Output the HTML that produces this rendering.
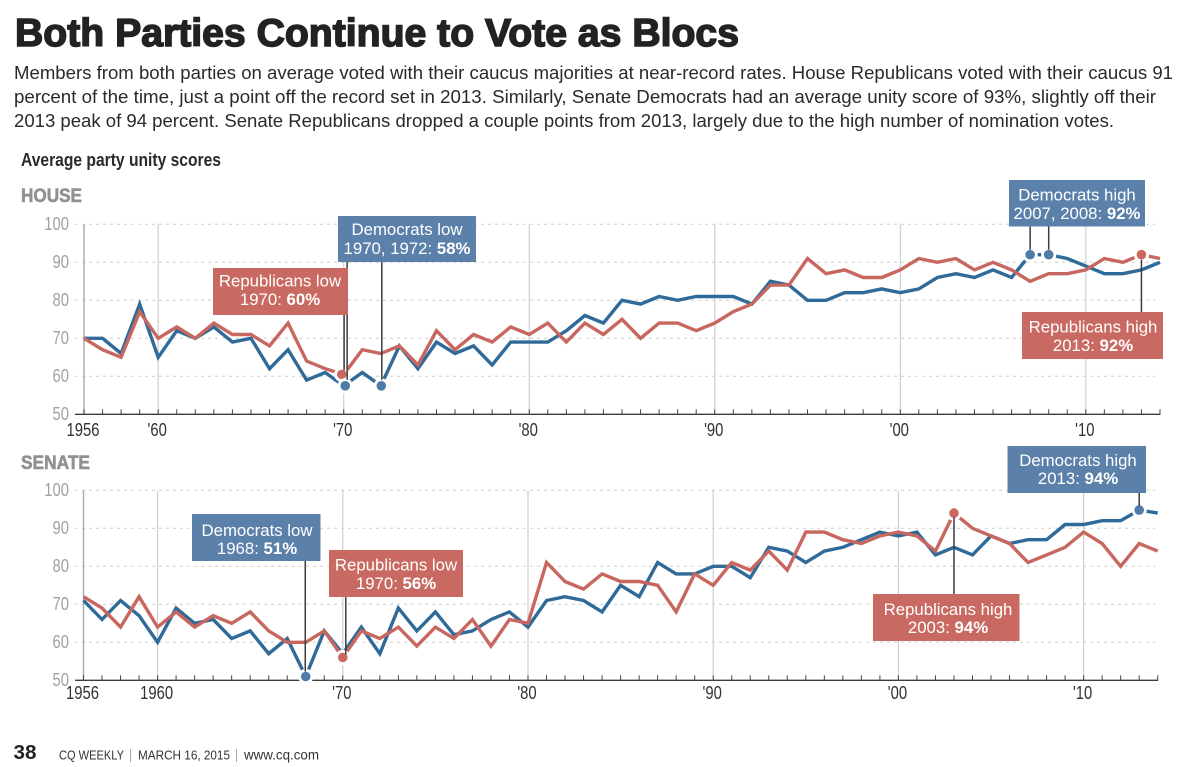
<!DOCTYPE html>
<html lang="en">
<head>
<meta charset="utf-8">
<title>Both Parties Continue to Vote as Blocs</title>
<style>
html,body{margin:0;padding:0;background:#fff;width:1200px;height:767px;overflow:hidden}
svg{display:block}
text{font-family:"Liberation Sans",sans-serif}
.para{font-size:18px;fill:#2a2a2c}
.box-t{font-size:16.8px;fill:#fff;text-anchor:middle}
.box-t tspan{font-weight:bold}
</style>
</head>
<body>
<svg id="chart" width="1200" height="767" viewBox="0 0 1200 767" xmlns="http://www.w3.org/2000/svg">
  <text x="15" y="46" font-size="39" font-weight="bold" fill="#222" stroke="#222" stroke-width="1.5" textLength="724" lengthAdjust="spacingAndGlyphs">Both Parties Continue to Vote as Blocs</text>
  <text class="para" x="14" y="79" textLength="1159" lengthAdjust="spacingAndGlyphs">Members from both parties on average voted with their caucus majorities at near-record rates. House Republicans voted with their caucus 91</text>
  <text class="para" x="14" y="103" textLength="1142" lengthAdjust="spacingAndGlyphs">percent of the time, just a point off the record set in 2013. Similarly, Senate Democrats had an average unity score of 93%, slightly off their</text>
  <text class="para" x="14" y="127" textLength="1100" lengthAdjust="spacingAndGlyphs">2013 peak of 94 percent. Senate Republicans dropped a couple points from 2013, largely due to the high number of nomination votes.</text>
  <text x="21" y="166" font-size="18" font-weight="bold" fill="#2a2a2c" textLength="200" lengthAdjust="spacingAndGlyphs">Average party unity scores</text>
  <text x="21" y="202" font-size="19" font-weight="bold" fill="#8f9194" stroke="#8f9194" stroke-width=".6" textLength="61" lengthAdjust="spacingAndGlyphs">HOUSE</text>
  <text x="21" y="469" font-size="19" font-weight="bold" fill="#8f9194" stroke="#8f9194" stroke-width=".6" textLength="69" lengthAdjust="spacingAndGlyphs">SENATE</text>

  <g id="house-plot"></g>
  <g id="senate-plot"></g>

  <g>
    <rect x="338" y="216" width="138" height="46" fill="#5b80a9"/>
    <text class="box-t" x="407" y="235">Democrats low</text>
    <text class="box-t" x="407" y="254">1970, 1972: <tspan>58%</tspan></text>
  </g>
  <g>
    <rect x="213" y="268" width="135" height="47" fill="#c96a62"/>
    <text class="box-t" x="280" y="286.500">Republicans low</text>
    <text class="box-t" x="280" y="305">1970: <tspan>60%</tspan></text>
  </g>
  <g>
    <rect x="1009" y="180" width="136" height="46.500" fill="#5b80a9"/>
    <text class="box-t" x="1077" y="200.500">Democrats high</text>
    <text class="box-t" x="1077" y="219">2007, 2008: <tspan>92%</tspan></text>
  </g>
  <g>
    <rect x="1022" y="312" width="141" height="47" fill="#c96a62"/>
    <text class="box-t" x="1093" y="332.500">Republicans high</text>
    <text class="box-t" x="1093" y="351">2013: <tspan>92%</tspan></text>
  </g>
  <g>
    <rect x="192" y="514" width="128.500" height="47" fill="#5b80a9"/>
    <text class="box-t" x="257" y="536">Democrats low</text>
    <text class="box-t" x="257" y="554">1968: <tspan>51%</tspan></text>
  </g>
  <g>
    <rect x="329" y="550" width="134" height="47" fill="#c96a62"/>
    <text class="box-t" x="396" y="570.500">Republicans low</text>
    <text class="box-t" x="396" y="589">1970: <tspan>56%</tspan></text>
  </g>
  <g>
    <rect x="873" y="594" width="146.500" height="47" fill="#c96a62"/>
    <text class="box-t" x="948" y="615">Republicans high</text>
    <text class="box-t" x="948" y="633">2003: <tspan>94%</tspan></text>
  </g>
  <g>
    <rect x="1007.500" y="446" width="138.500" height="47" fill="#5b80a9"/>
    <text class="box-t" x="1078" y="466">Democrats high</text>
    <text class="box-t" x="1078" y="484">2013: <tspan>94%</tspan></text>
  </g>

  <text x="13.500" y="759" font-size="20" font-weight="bold" fill="#222" textLength="23" lengthAdjust="spacingAndGlyphs">38</text>
  <text x="59" y="759.500" font-size="13" fill="#333" textLength="65" lengthAdjust="spacingAndGlyphs">CQ WEEKLY</text>
  <rect x="130" y="749" width="1" height="13" fill="#aaa"/>
  <text x="138" y="759.500" font-size="13" fill="#333" textLength="92" lengthAdjust="spacingAndGlyphs">MARCH 16, 2015</text>
  <rect x="236" y="749" width="1" height="13" fill="#aaa"/>
  <text x="244" y="759.500" font-size="13.500" fill="#333" textLength="75" lengthAdjust="spacingAndGlyphs">www.cq.com</text>
</svg>

<script>
const years = [1956,1957,1958,1959,1960,1961,1962,1963,1964,1965,1966,1967,1968,1969,1970,1971,1972,1973,1974,1975,1976,1977,1978,1979,1980,1981,1982,1983,1984,1985,1986,1987,1988,1989,1990,1991,1992,1993,1994,1995,1996,1997,1998,1999,2000,2001,2002,2003,2004,2005,2006,2007,2008,2009,2010,2011,2012,2013,2014];
const houseDemocrats = [70,70,66,79,65,72,70,73,69,70,62,67,59,61,57.5,61,57.5,68,62,69,66,68,63,69,69,69,72,76,74,80,79,81,80,81,81,81,79,85,84,80,80,82,82,83,82,83,86,87,86,88,86,92,92,91,89,87,87,88,90];
const houseRepublicans = [70,67,65,77,70,73,70,74,71,71,68,74,64,62,60.5,67,66,68,63,72,67,71,69,73,71,74,69,74,71,75,70,74,74,72,74,77,79,84,84,91,87,88,86,86,88,91,90,91,88,90,88,85,87,87,88,91,90,92,91];
const senateDemocrats = [71,66,71,67,60,69,65,66,61,63,57,61,51,63,57,64,57,69,63,68,62,63,66,68,64,71,72,71,68,75,72,81,78,78,80,80,77,85,84,81,84,85,87,89,88,89,83,85,83,88,86,87,87,91,91,92,92,94.8,94];
const senateRepublicans = [72,69,64,72,64,68,64,67,65,68,63,60,60,63,56,63,61,64,59,64,61,66,59,66,65,81,76,74,78,76,76,75,68,78,75,81,79,84,79,89,89,87,86,88,89,88,84,94,90,88,86,81,83,85,89,86,80,86,84];
const yTicks = [100,90,80,70,60,50];
const gridYears = [1956,1960,1970,1980,1990,2000,2010];
const houseXLabels = ['1956',"'60","'70","'80","'90","'00","'10"];
const senateXLabels = ['1956','1960',"'70","'80","'90","'00","'10"];

const NS = 'http://www.w3.org/2000/svg';
const BLUE = '#2f6a98', RED = '#c8675f', DOT_BLUE = '#4f7ba8', DOT_RED = '#cb6961';

function mk(parent, tag, attrs, txt) {
  const el = document.createElementNS(NS, tag);
  for (const k in attrs) el.setAttribute(k, attrs[k]);
  if (txt !== undefined) el.textContent = txt;
  parent.appendChild(el);
  return el;
}

function drawPanel(root, x0, x1, yTop, yBottom, dems, reps, xLabels, labelY, leaders, dots) {
  const xScale = year => x0 + (year - years[0]) / (years[years.length - 1] - years[0]) * (x1 - x0);
  const yScale = v => yBottom - (v - 50) / 50 * (yBottom - yTop);

  yTicks.forEach(v => {
    if (v > 50) {
      const g = mk(root, 'line', {x1: 75, x2: 1155, y1: yScale(v), y2: yScale(v), stroke: '#cdcdcd', 'stroke-width': 1, 'stroke-dasharray': '3 4'});
      
      
    }
    const t = mk(root, 'text', {transform: 'translate(69,' + (yScale(v) + 5.8) + ') scale(.8,1)', 'text-anchor': 'end', 'font-size': 18.5, fill: '#a0a2a5'}, String(v));
    
    
  });

  gridYears.forEach((yr, i) => {
    const g = mk(root, 'line', {x1: xScale(yr), x2: xScale(yr), y1: yTop, y2: yBottom, stroke: i === 0 ? '#a9a9a9' : '#cfcfcf', 'stroke-width': i === 0 ? 1.4 : 1.2});
    
    
    const t = mk(root, 'text', {transform: 'translate(' + (xScale(yr) - 1) + ',' + labelY + ') scale(.8,1)', 'text-anchor': 'middle', 'font-size': 18.5, fill: '#333'}, xLabels[i]);
    
    
  });

  const axis = mk(root, 'line', {x1: 75, x2: x1 + .5, y1: yBottom, y2: yBottom, stroke: '#3d3d3d', 'stroke-width': 1.4});
  
  

  years.forEach(yr => {
    const tk = mk(root, 'line', {x1: xScale(yr), x2: xScale(yr), y1: yBottom - 5, y2: yBottom, stroke: '#444', 'stroke-width': 1});
    
    
  });

  const path = vals => vals.map((v, i) => xScale(years[i]).toFixed(2) + ',' + yScale(v).toFixed(2)).join(' ');
  const demLine = mk(root, 'polyline', {points: path(dems), fill: 'none', stroke: BLUE, 'stroke-width': 3.4, 'stroke-linejoin': 'miter'});
  
  
  const repLine = mk(root, 'polyline', {points: path(reps), fill: 'none', stroke: RED, 'stroke-width': 3.4, 'stroke-linejoin': 'miter'});
  
  

  dots.forEach(d => {
    const vals = d.party === 'dem' ? dems : reps;
    const c = mk(root, 'circle', {cx: xScale(d.year) + d.dx, cy: yScale(vals[years.indexOf(d.year)]), r: 6.2, fill: d.party === 'dem' ? DOT_BLUE : DOT_RED, stroke: '#fff', 'stroke-width': 2.8});
    
    
  });

  leaders.forEach(l => {
    const vals = l.party === 'dem' ? dems : reps;
    const ln = mk(root, 'line', {x1: xScale(l.year) + l.dx, x2: xScale(l.year) + l.dx, y1: l.box, y2: yScale(vals[years.indexOf(l.year)]) + l.gap, stroke: '#3c3c3c', 'stroke-width': 1.5});
    
    
  });
}

drawPanel(document.getElementById('house-plot'), 84, 1160, 224.3, 414.3, houseDemocrats, houseRepublicans, houseXLabels, 436,
  [
    {party: 'rep', year: 1970, dx: 0.4, box: 315, gap: -4},
    {party: 'dem', year: 1970, dx: 3.4, box: 262, gap: -6},
    {party: 'dem', year: 1972, dx: 1, box: 262, gap: -6},
    {party: 'dem', year: 2007, dx: 0, box: 226, gap: -5},
    {party: 'dem', year: 2008, dx: 0, box: 226, gap: -5},
    {party: 'rep', year: 2013, dx: 0, box: 312, gap: 5}
  ],
  [
    {party: 'rep', year: 1970, dx: -2},
    {party: 'dem', year: 1970, dx: 1.5},
    {party: 'dem', year: 1972, dx: 0.5},
    {party: 'dem', year: 2007, dx: 0},
    {party: 'dem', year: 2008, dx: 0},
    {party: 'rep', year: 2013, dx: 0}
  ]);

drawPanel(document.getElementById('senate-plot'), 83.5, 1157.7, 490.3, 680.3, senateDemocrats, senateRepublicans, senateXLabels, 699,
  [
    {party: 'dem', year: 1968, dx: -0.5, box: 561, gap: -5},
    {party: 'rep', year: 1970, dx: 3, box: 597, gap: -3},
    {party: 'rep', year: 2003, dx: 0, box: 594, gap: 4},
    {party: 'dem', year: 2013, dx: 0, box: 493, gap: -4}
  ],
  [
    {party: 'dem', year: 1968, dx: 0},
    {party: 'rep', year: 1970, dx: 0},
    {party: 'rep', year: 2003, dx: 0},
    {party: 'dem', year: 2013, dx: 0}
  ]);
</script>
</body>
</html>
